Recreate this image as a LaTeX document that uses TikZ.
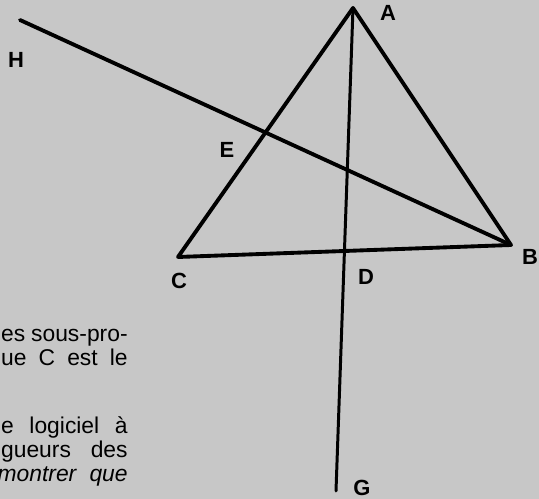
\documentclass[tikz,border=0pt]{standalone}
\usepackage{fontspec}
\setmainfont{Liberation Sans}
\usetikzlibrary{calc}

\begin{document}
\begin{tikzpicture}[
    x=0.02cm, y=-0.02cm,
    seg/.style={line width=2.2pt, line cap=round, line join=round},
    thinseg/.style={line width=1.7pt, line cap=round},
    pt/.style={font=\fontsize{12.5}{14}\selectfont\bfseries, inner sep=0pt},
    txt/.style={font=\fontsize{13}{15}\selectfont, anchor=base east, inner sep=0pt}
  ]
  % Background (screened paper)
  \fill[black!22] (0,0) rectangle (539,499);
  \useasboundingbox (0,0) rectangle (539,499);
  \clip (0,0) rectangle (539,499);

  % Points
  \coordinate (A) at (353,8);
  \coordinate (B) at (511,245);
  \coordinate (C) at (178,257);
  \coordinate (H) at (20,20);
  \coordinate (G) at (336,491);
  \coordinate (D) at (intersection of A--G and C--B);
  \coordinate (E) at (intersection of H--B and A--C);

  % Triangle ABC
  \draw[seg] (A) -- (B) -- (C) -- cycle;

  % Lines HB and AG
  \draw[seg] (H) -- (B);
  \draw[thinseg] (A) -- (G);

  % Labels
  \node[pt] (lA) at (388,13) {A};
  \node[pt] (lB) at (530,257) {B};
  \node[pt] (lC) at (179,281) {C};
  \node[pt] (lD) at (366,277) {D};
  \node[pt] (lE) at (227,150) {E};
  \node[pt] (lG) at (362,488) {G};
  \node[pt] (lH) at (16,60) {H};

  % Text of the page, cut at the left edge
  \foreach \y/\t in {342/es sous-pro-, 366/ue C est le, 434/e logiciel à, 458/gueurs des} {
    \node[txt] (line\y) at (128,\y) {\makebox[72pt][s]{\t}};
  }
  \node[txt] (line482) at (128,482) {\makebox[74pt][s]{\itshape montrer que}};
\end{tikzpicture}
\end{document}
